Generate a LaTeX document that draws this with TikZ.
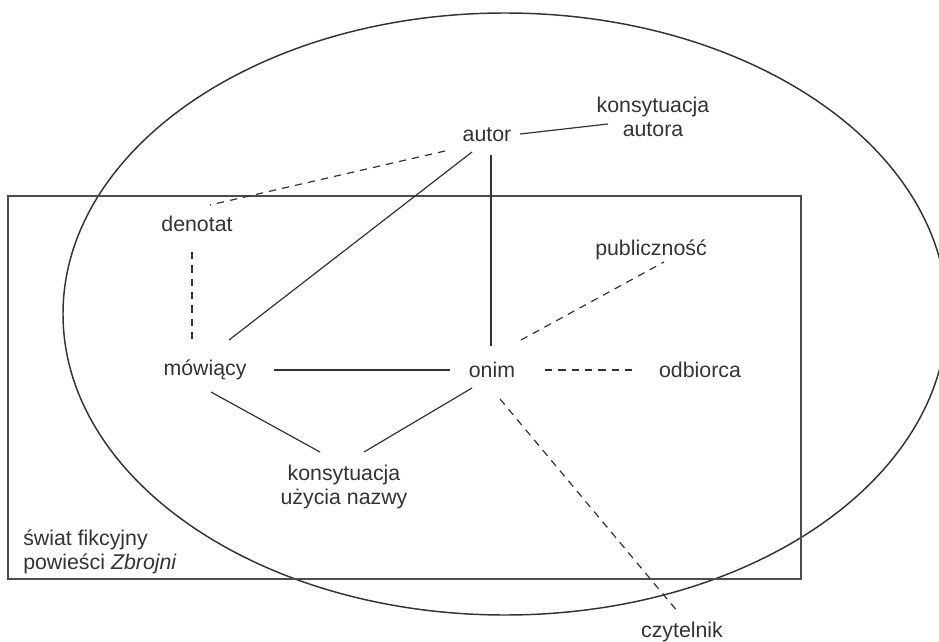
\documentclass[tikz,border=0pt]{standalone}
\usepackage{fontspec}
\setmainfont{Liberation Sans}
\usetikzlibrary{calc}

\definecolor{inkgray}{HTML}{333333}
\tikzset{
  lbl/.style={font=\fontsize{16}{18}\selectfont, text=inkgray, align=center, inner sep=0pt},
  link/.style={draw=inkgray, line width=0.9pt},
  dlink/.style={link, dash pattern=on 5.5pt off 4.5pt},
}

\begin{document}
\begin{tikzpicture}[x=0.75pt,y=-0.75pt]
\useasboundingbox (0,0) rectangle (939,642);

% Frames
\draw[inkgray, line width=1.1pt] (505,314) ellipse [x radius=331.5pt, y radius=225.75pt];
\draw[black!70, line width=1.1pt] (8,196) rectangle (801,579);

% Labels
\node[lbl] (autor) at (487,135) {autor};
\node[lbl] (konsA) at (653,117) {konsytuacja\\autora};
\node[lbl] (denotat) at (197,224) {denotat};
\node[lbl] (publ) at (651,250) {publiczność};
\node[lbl] (mow) at (205,370) {mówiący};
\node[lbl] (onim) at (492,370) {onim};
\node[lbl] (odb) at (700,370) {odbiorca};
\node[lbl] (kUN) at (344,487) {konsytuacja\\użycia nazwy};
\node[lbl] (czyt) at (682,632) {czytelnik};
\node[lbl, align=left, anchor=west] (swiat) at (23,552) {świat fikcyjny\\powieści \textit{Zbrojni}};

% Solid links
\draw[link] ($(autor)+(33,-1)$) -- ($(konsA)+(-45,7)$);
\draw[link] ($(autor)+(-15,17)$) -- ($(mow)+(24,-30)$);
\draw[link] ($(autor)+(4,20)$) -- ($(onim)+(-1,-24)$);
\draw[link] ($(mow)+(69,0)$) -- ($(onim)+(-42,0)$);
\draw[link] ($(mow)+(6,22)$) -- ($(kUN)+(-24,-35)$);
\draw[link] ($(onim)+(-20,18)$) -- ($(kUN)+(20,-35)$);

% Dashed links
\draw[dlink] ($(autor)+(-42,16)$) -- ($(denotat)+(13,-19)$);
\draw[dlink] ($(denotat)+(-5,28)$) -- ($(mow)+(-13,-27)$);
\draw[dlink] ($(onim)+(53,0)$) -- ($(odb)+(-62,0)$);
\draw[dlink] ($(onim)+(29,-30)$) -- ($(publ)+(13,12)$);
\draw[dlink] ($(onim)+(8,29)$) -- ($(czyt)+(-4,-20)$);
\end{tikzpicture}
\end{document}
